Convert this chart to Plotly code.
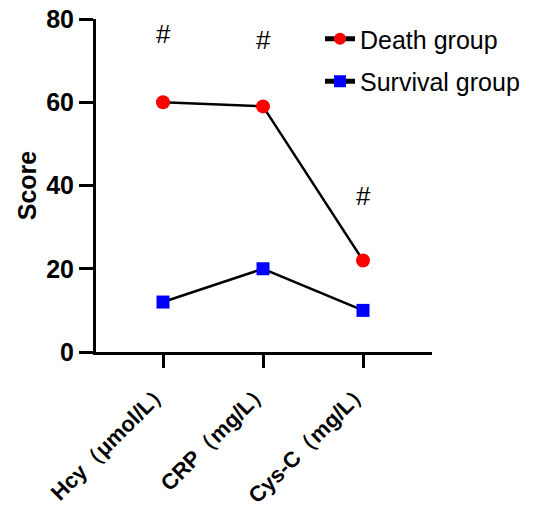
import plotly.graph_objects as go

categories = ["Hcy（μmol/L）", "CRP（mg/L）", "Cys-C（mg/L）"]
death = [60, 59, 22]
survival = [12, 20, 10]
hash_y = [76.5, 75, 37.5]
y_ticks = [0, 20, 40, 60, 80]

FONT = "Liberation Sans, Arial, sans-serif"

fig = go.Figure()
fig.add_trace(go.Scatter(
    x=categories, y=death, mode="lines+markers", name="Death group",
    legendgroup="d",
    line=dict(color="black", width=2.5),
    marker=dict(symbol="circle", size=14, color="#ff0000"),
))
fig.add_trace(go.Scatter(
    x=categories, y=survival, mode="lines+markers", name="Survival group",
    legendgroup="s",
    line=dict(color="black", width=2.5),
    marker=dict(symbol="square", size=13, color="#0000ff"),
))

for c, h in zip(categories, hash_y):
    fig.add_annotation(x=c, y=h, text="#", showarrow=False,
                       font=dict(family=FONT, size=26, color="black"))

fig.update_layout(
    width=539, height=507,
    margin=dict(l=96, r=107, t=19, b=155, autoexpand=False),
    paper_bgcolor="white", plot_bgcolor="white",
    font=dict(family=FONT, color="black"),
    legend=dict(x=(320 - 96) / 336, y=1.0 + 3 / 333, xanchor="left", yanchor="top",
                font=dict(family=FONT, size=25, color="black"),
                bgcolor="rgba(0,0,0,0)", tracegroupgap=7,
                itemsizing="constant"),
    showlegend=True,
)
fig.update_xaxes(
    type="category", range=[-0.67, 2.69], automargin=False,
    showline=True, linecolor="black", linewidth=3,
    ticks="outside", ticklen=13, tickwidth=3, tickcolor="black",
    tickangle=-45, showgrid=False, zeroline=False,
    tickfont=dict(family=FONT, size=22, color="black", weight="bold"),
)
fig.update_yaxes(
    range=[0, 80], tickvals=y_ticks, automargin=False,
    showline=True, linecolor="black", linewidth=3,
    ticks="outside", ticklen=14, tickwidth=3, tickcolor="black",
    showgrid=False, zeroline=False,
    tickfont=dict(family=FONT, size=25, color="black", weight="bold"),
    title=dict(text="Score", font=dict(family=FONT, size=25, color="black", weight="bold"), standoff=3),
)

fig.write_html("out.html", config={"displayModeBar": False},
               post_script="document.body.style.margin='0';")
